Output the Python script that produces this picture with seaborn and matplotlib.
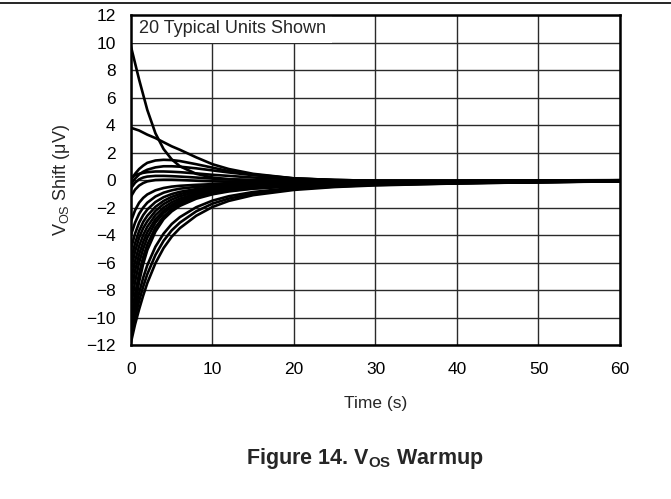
import pandas as pd
import matplotlib.pyplot as plt
import seaborn as sns
from matplotlib.lines import Line2D
from matplotlib.patches import Rectangle

# sample times (s)
time_s = [0, 0.5, 1, 1.5, 2, 3, 4, 5, 6, 8, 10, 12, 15, 20, 25, 30, 40, 50, 60]

# VOS shift (uV) of the 20 units
unit_01 = [9.7, 8.5, 7.3, 6.2, 5.1, 3.4, 2.25, 1.5, 1.0, 0.45, 0.18, 0.06, -0.02, -0.08, -0.1, -0.1, -0.07, -0.04, -0.02]
unit_02 = [3.8, 3.7, 3.6, 3.45, 3.3, 3.05, 2.75, 2.45, 2.2, 1.65, 1.15, 0.8, 0.45, 0.12, 0.0, -0.05, -0.05, -0.03, -0.01]
unit_03 = [0.0, 0.45, 0.8, 1.05, 1.25, 1.42, 1.47, 1.45, 1.38, 1.15, 0.9, 0.65, 0.4, 0.12, 0.0, -0.05, -0.06, -0.04, -0.02]
unit_04 = [-0.3, 0.1, 0.4, 0.6, 0.75, 0.92, 1.0, 1.0, 0.97, 0.85, 0.7, 0.55, 0.35, 0.1, 0.0, -0.05, -0.06, -0.04, -0.02]
unit_05 = [0.2, 0.35, 0.45, 0.52, 0.57, 0.62, 0.62, 0.6, 0.57, 0.48, 0.38, 0.3, 0.18, 0.05, -0.03, -0.07, -0.07, -0.05, -0.02]
unit_06 = [-0.6, -0.2, 0.05, 0.18, 0.25, 0.3, 0.3, 0.28, 0.25, 0.18, 0.1, 0.05, 0.0, -0.08, -0.12, -0.13, -0.1, -0.07, -0.03]
unit_07 = [-1.2, -0.7, -0.4, -0.22, -0.1, 0.0, 0.02, 0.02, 0.0, -0.05, -0.1, -0.13, -0.16, -0.2, -0.2, -0.18, -0.13, -0.08, -0.04]
unit_08 = [-3.0, -2.2, -1.65, -1.3, -1.05, -0.75, -0.58, -0.48, -0.42, -0.35, -0.3, -0.28, -0.26, -0.24, -0.22, -0.2, -0.15, -0.1, -0.05]
unit_09 = [-4.0, -3.1, -2.45, -2.0, -1.65, -1.2, -0.92, -0.75, -0.63, -0.5, -0.42, -0.37, -0.32, -0.28, -0.25, -0.22, -0.16, -0.11, -0.06]
unit_10 = [-5.0, -3.9, -3.1, -2.55, -2.15, -1.6, -1.25, -1.02, -0.86, -0.66, -0.53, -0.45, -0.38, -0.31, -0.27, -0.23, -0.17, -0.11, -0.06]
unit_11 = [-5.8, -4.6, -3.7, -3.05, -2.6, -1.95, -1.52, -1.22, -1.02, -0.76, -0.6, -0.5, -0.41, -0.33, -0.28, -0.24, -0.18, -0.12, -0.07]
unit_12 = [-6.5, -5.2, -4.2, -3.5, -3.0, -2.25, -1.75, -1.42, -1.18, -0.88, -0.68, -0.56, -0.45, -0.35, -0.3, -0.25, -0.19, -0.12, -0.07]
unit_13 = [-7.3, -5.9, -4.8, -4.0, -3.4, -2.55, -2.0, -1.62, -1.35, -1.0, -0.78, -0.63, -0.5, -0.38, -0.32, -0.27, -0.2, -0.13, -0.08]
unit_14 = [-8.2, -6.6, -5.4, -4.5, -3.8, -2.85, -2.22, -1.8, -1.5, -1.1, -0.85, -0.68, -0.53, -0.4, -0.33, -0.28, -0.2, -0.13, -0.08]
unit_15 = [-9.2, -7.4, -6.0, -5.0, -4.2, -3.1, -2.4, -1.95, -1.62, -1.2, -0.92, -0.74, -0.57, -0.42, -0.34, -0.29, -0.21, -0.14, -0.08]
unit_16 = [-10.2, -8.3, -6.8, -5.6, -4.7, -3.45, -2.65, -2.12, -1.75, -1.28, -0.98, -0.78, -0.6, -0.44, -0.36, -0.3, -0.21, -0.14, -0.08]
unit_17 = [-11.0, -9.0, -7.4, -6.1, -5.1, -3.75, -2.85, -2.28, -1.88, -1.36, -1.04, -0.83, -0.63, -0.46, -0.37, -0.31, -0.22, -0.15, -0.09]
unit_18 = [-11.0, -9.5, -8.2, -7.1, -6.2, -4.85, -3.9, -3.2, -2.7, -1.98, -1.5, -1.18, -0.87, -0.57, -0.42, -0.33, -0.22, -0.15, -0.09]
unit_19 = [-11.4, -10.0, -8.8, -7.75, -6.85, -5.45, -4.42, -3.66, -3.1, -2.28, -1.72, -1.35, -0.99, -0.65, -0.47, -0.36, -0.24, -0.16, -0.09]
unit_20 = [-11.8, -10.5, -9.4, -8.4, -7.5, -6.05, -4.95, -4.12, -3.5, -2.6, -1.96, -1.52, -1.1, -0.72, -0.51, -0.39, -0.25, -0.16, -0.1]

units = [unit_01, unit_02, unit_03, unit_04, unit_05, unit_06, unit_07, unit_08, unit_09, unit_10,
         unit_11, unit_12, unit_13, unit_14, unit_15, unit_16, unit_17, unit_18, unit_19, unit_20]

x_ticks = [0, 10, 20, 30, 40, 50, 60]
y_ticks = [-12, -10, -8, -6, -4, -2, 0, 2, 4, 6, 8, 10, 12]

rows = []
for i, vals in enumerate(units):
    for t, v in zip(time_s, vals):
        rows.append({'unit': i + 1, 'Time': t, 'Shift': v})
df = pd.DataFrame(rows)

sns.set_style('white')
plt.rcParams['font.family'] = ['Liberation Sans', 'DejaVu Sans']
plt.rcParams['mathtext.default'] = 'regular'

fig = plt.figure(figsize=(6.71, 4.99), dpi=100)
ax = fig.add_axes([0.1952, 0.3086, 0.7288, 0.6613])

sns.lineplot(data=df, x='Time', y='Shift', units='unit', estimator=None,
             color='black', linewidth=1.9, ax=ax, zorder=3)

ax.set_xlim(0, 60)
ax.set_ylim(-12, 12)
ax.set_xticks(x_ticks)
ax.set_yticks(y_ticks)
ax.grid(True, color='#2a2a2a', linewidth=1.0)
ax.set_axisbelow(True)
ax.tick_params(axis='both', length=0, labelsize=12.5, colors='black')
ax.tick_params(axis='x', pad=12)
ax.tick_params(axis='y', pad=11)
for sp in ax.spines.values():
    sp.set_color('black')
    sp.set_linewidth(1.8)
    sp.set_zorder(5)

ax.set_xlabel('Time (s)', fontsize=12.5, labelpad=14)
ax.set_ylabel('V$_{OS}$ Shift (μV)', fontsize=13, labelpad=10)

# white label box in the top-left corner
ax.add_patch(Rectangle((0, 9.95), 24.7, 2.05, facecolor='white', edgecolor='none', zorder=2))
ax.text(1.0, 11.0, '20 Typical Units Shown', fontsize=13, va='center', ha='left', zorder=4)

fig.add_artist(Line2D([0, 1], [0.994, 0.994], color='black', linewidth=1.2, transform=fig.transFigure))
fig.text(0.544, 0.082, 'Figure 14. V$_{OS}$ Warmup', fontsize=15.5, fontweight='bold',
         ha='center', va='center')

fig.savefig('out.png', dpi=100)
